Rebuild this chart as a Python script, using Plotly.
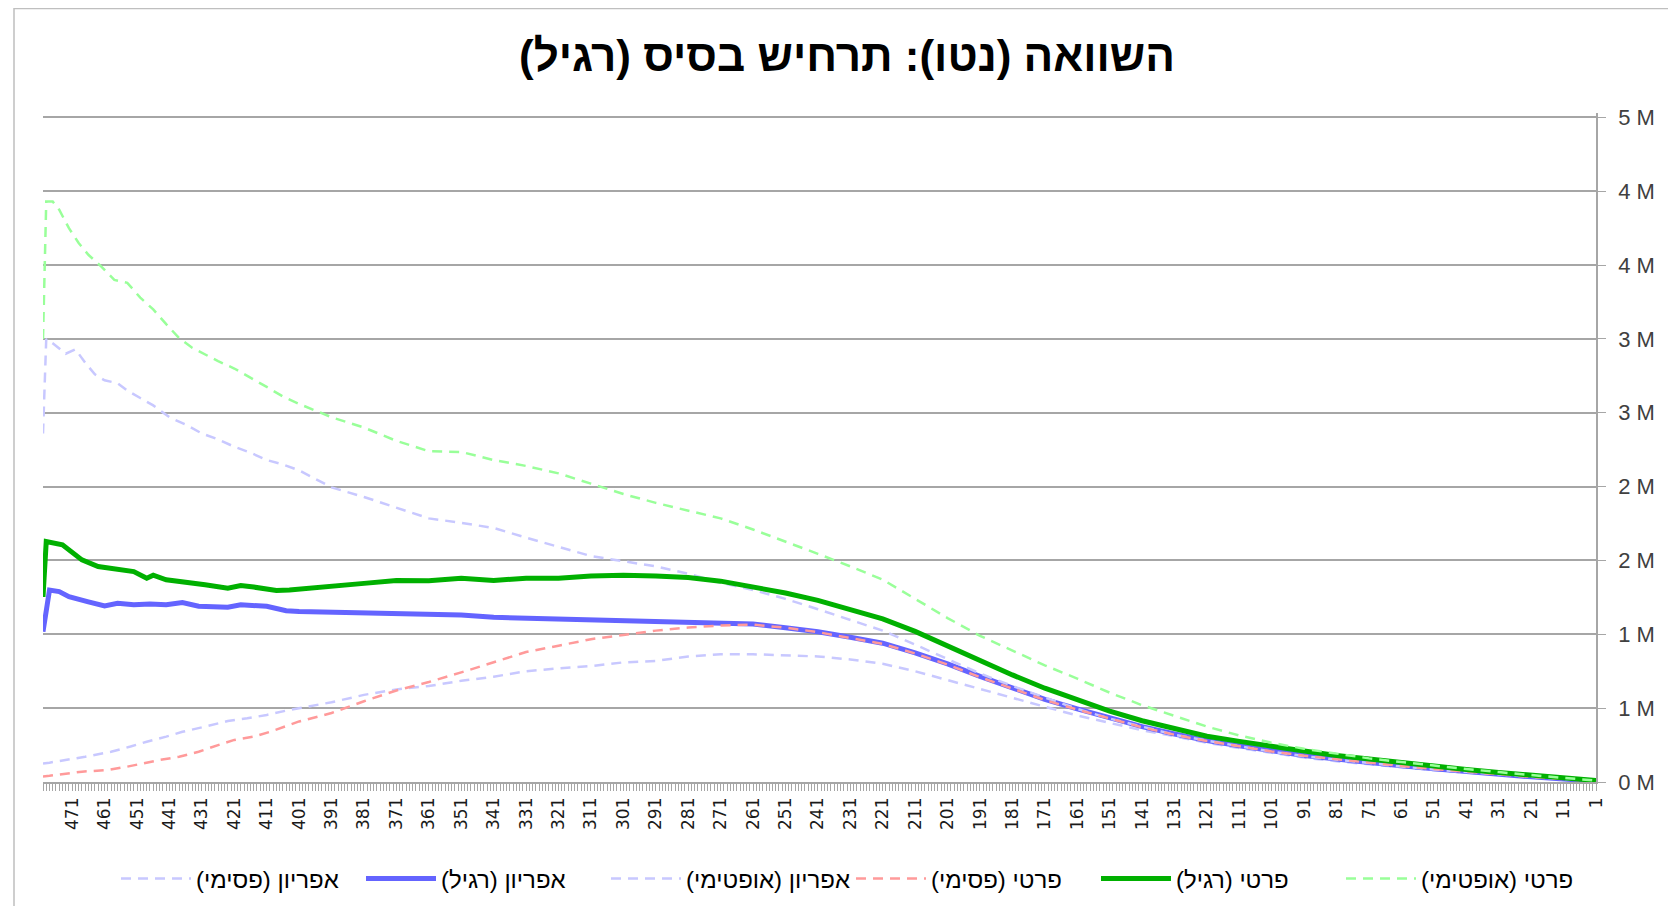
import plotly.graph_objects as go

RLM = "\u200f"

# ---------------- data (values in millions) ----------------
TAIL_CAT = [401, 391, 381, 371, 361, 351, 341, 331, 321, 311, 301, 291, 281, 271,
            261, 251, 241, 231, 221, 211, 201, 191, 181, 171, 161, 151, 141, 131,
            121, 111, 101, 91, 81, 71, 61, 51, 41, 31, 21, 11, 1]

# אפריון (פסימי)
afr_pes_head_x = [480, 478, 467, 459, 453, 448, 442, 437, 430, 423, 417, 411, 404]
afr_pes_head_y = [0.125, 0.131, 0.171, 0.205, 0.24, 0.273, 0.307, 0.34, 0.375, 0.413, 0.431, 0.454, 0.488]
afr_pes_tail = [0.50, 0.54, 0.59, 0.627, 0.65, 0.685, 0.713, 0.75, 0.77, 0.785, 0.81, 0.82, 0.85, 0.865,
                0.865, 0.86, 0.85, 0.83, 0.80, 0.75, 0.69, 0.627, 0.57, 0.51, 0.45, 0.40, 0.35, 0.31,
                0.265, 0.23, 0.195, 0.165, 0.14, 0.12, 0.10, 0.08, 0.065, 0.045, 0.03, 0.018, 0.005]

# אפריון (רגיל)
afr_reg_head_x = [480, 478, 475, 472, 466, 461, 457, 452, 447, 442, 437, 432, 423, 419, 411, 405]
afr_reg_head_y = [1.018, 1.30, 1.289, 1.255, 1.22, 1.192, 1.21, 1.20, 1.205, 1.20, 1.215, 1.19, 1.183, 1.20, 1.19, 1.16]
afr_reg_tail = [1.155, 1.15, 1.145, 1.14, 1.13, 1.13, 1.115, 1.11, 1.105, 1.10, 1.095, 1.09, 1.085, 1.08,
                1.07, 1.045, 1.017, 0.98, 0.94, 0.875, 0.80, 0.715, 0.635, 0.56, 0.495, 0.435, 0.375, 0.325,
                0.28, 0.245, 0.21, 0.18, 0.155, 0.13, 0.11, 0.09, 0.07, 0.052, 0.035, 0.02, 0.006]

# אפריון (אופטימי)
afr_opt_head_x = [480, 479, 477, 473, 470, 467, 464, 461, 457, 454, 450, 446, 441, 436, 431, 426, 421, 416, 411, 406]
afr_opt_head_y = [2.36, 3.0, 2.97, 2.90, 2.93, 2.84, 2.76, 2.72, 2.70, 2.65, 2.60, 2.55, 2.47, 2.42, 2.36, 2.32, 2.27, 2.23, 2.18, 2.15]
afr_opt_tail = [2.11, 1.995, 1.93, 1.857, 1.785, 1.755, 1.72, 1.655, 1.59, 1.53, 1.495, 1.46, 1.41, 1.35,
                1.30, 1.24, 1.17, 1.10, 1.025, 0.93, 0.83, 0.735, 0.65, 0.57, 0.495, 0.43, 0.375, 0.32,
                0.28, 0.24, 0.205, 0.175, 0.15, 0.125, 0.105, 0.085, 0.068, 0.05, 0.033, 0.02, 0.006]

# פרטי (פסימי)
prv_pes_head_x = [480, 478, 468, 460, 454, 449, 444, 438, 432, 426, 421, 415, 410, 404]
prv_pes_head_y = [0.038, 0.042, 0.07, 0.081, 0.104, 0.127, 0.149, 0.171, 0.205, 0.25, 0.285, 0.307, 0.34, 0.386]
prv_pes_tail = [0.41, 0.467, 0.547, 0.62, 0.677, 0.742, 0.81, 0.88, 0.923, 0.967, 0.996, 1.025, 1.046, 1.06,
                1.065, 1.045, 1.015, 0.975, 0.935, 0.87, 0.795, 0.71, 0.63, 0.555, 0.49, 0.43, 0.37, 0.32,
                0.277, 0.242, 0.207, 0.178, 0.153, 0.128, 0.108, 0.088, 0.069, 0.051, 0.034, 0.019, 0.005]

# פרטי (רגיל)
prv_reg_head_x = [480, 479, 474, 471, 468, 463, 457, 452, 448, 446, 442, 437, 434, 430, 423, 419, 415, 411, 408, 404]
prv_reg_head_y = [1.253, 1.628, 1.606, 1.56, 1.504, 1.459, 1.436, 1.425, 1.38, 1.40, 1.369, 1.357, 1.346, 1.335,
                  1.312, 1.33, 1.32, 1.305, 1.297, 1.30]
prv_reg_tail = [1.305, 1.32, 1.345, 1.365, 1.362, 1.38, 1.365, 1.38, 1.38, 1.395, 1.40, 1.395, 1.385, 1.36,
                1.32, 1.28, 1.23, 1.17, 1.105, 1.02, 0.92, 0.82, 0.725, 0.635, 0.555, 0.48, 0.415, 0.36,
                0.31, 0.275, 0.24, 0.21, 0.18, 0.155, 0.13, 0.105, 0.085, 0.065, 0.045, 0.028, 0.01]

# פרטי (אופטימי)
prv_opt_head_x = [480, 479, 477, 475, 472, 469, 466, 462, 458, 454, 450, 446, 442, 438, 434, 431, 426, 421, 416, 411, 406]
prv_opt_head_y = [3.0, 3.93, 3.93, 3.875, 3.75, 3.65, 3.57, 3.49, 3.40, 3.38, 3.28, 3.20, 3.10, 3.006, 2.94, 2.905,
                  2.85, 2.80, 2.74, 2.675, 2.61]
prv_opt_tail = [2.56, 2.47, 2.40, 2.31, 2.24, 2.235, 2.18, 2.14, 2.09, 2.02, 1.95, 1.89, 1.84, 1.785,
                1.71, 1.63, 1.545, 1.46, 1.37, 1.24, 1.11, 0.99, 0.89, 0.79, 0.70, 0.605, 0.52, 0.445,
                0.375, 0.315, 0.265, 0.225, 0.19, 0.16, 0.135, 0.11, 0.088, 0.067, 0.046, 0.028, 0.01]

SERIES_NAMES = ["אפריון (פסימי)", "אפריון (רגיל)", "אפריון (אופטימי)",
                "פרטי (פסימי)", "פרטי (רגיל)", "פרטי (אופטימי)"]

X_TICKS = [471, 461, 451, 441, 431, 421, 411, 401, 391, 381, 371, 361, 351, 341, 331, 321,
           311, 301, 291, 281, 271, 261, 251, 241, 231, 221, 211, 201, 191, 181, 171, 161,
           151, 141, 131, 121, 111, 101, 91, 81, 71, 61, 51, 41, 31, 21, 11, 1]
Y_TICKS = [0, 0.5, 1.0, 1.5, 2.0, 2.5, 3.0, 3.5, 4.0, 4.5]
Y_LABELS = ["0 M", "1 M", "1 M", "2 M", "2 M", "3 M", "3 M", "4 M", "4 M", "5 M"]

TITLE = "השוואה (נטו): תרחיש בסיס (רגיל)"

# ---------------- styling ----------------
series = [
    (afr_pes_head_x, afr_pes_head_y, afr_pes_tail, "#C8C8FF", 2.5, "10px,7px"),
    (afr_reg_head_x, afr_reg_head_y, afr_reg_tail, "#6464FF", 5, "solid"),
    (afr_opt_head_x, afr_opt_head_y, afr_opt_tail, "#C8C8FF", 2.5, "10px,7px"),
    (prv_pes_head_x, prv_pes_head_y, prv_pes_tail, "#FF9A9A", 2.5, "10px,7px"),
    (prv_reg_head_x, prv_reg_head_y, prv_reg_tail, "#00B000", 5, "solid"),
    (prv_opt_head_x, prv_opt_head_y, prv_opt_tail, "#99FF99", 2.5, "10px,7px"),
]

fig = go.Figure()
for name, (hx, hy, tail, color, w, dash) in zip(SERIES_NAMES, series):
    fig.add_trace(go.Scatter(
        x=hx + TAIL_CAT, y=hy + tail, mode="lines", name=name + RLM,
        line=dict(color=color, width=w, dash=dash),
    ))

# page has an 8px body margin -> figure coordinates = page coordinates - 8
OFF = 8
W, H = 1676 - 2 * OFF, 914 - 2 * OFF
Y_TOP = 4.53
plot_left, plot_right = 43 - OFF, 1596 - OFF
y0_px = 782 - OFF                      # pixel of value 0
y45_px = 117 - OFF                     # pixel of value 4.5
ph = (y0_px - y45_px) * Y_TOP / 4.5
T = y0_px - ph
L, R = plot_left, W - plot_right
B = H - y0_px
pw = plot_right - plot_left

GRID = "#A6A6A6"
fig.update_layout(
    width=W, height=H,
    margin=dict(l=L, r=R, t=T, b=B, autoexpand=False),
    paper_bgcolor="white", plot_bgcolor="white",
    title=dict(text="<b>" + TITLE + RLM + "</b>", x=(847 - OFF) / W, xref="container", xanchor="center",
               y=1 - (56 - OFF) / H, yref="container", yanchor="middle",
               font=dict(family="Liberation Sans", size=44, color="#000000")),
    showlegend=True,
    legend=dict(orientation="h", x=(851 - OFF - plot_left) / pw, xanchor="center",
                y=(782 - 879) / ph, yanchor="middle",
                itemwidth=70, entrywidth=160, entrywidthmode="pixels",
                font=dict(family="Liberation Sans Narrow, Liberation Sans", size=24, color="#000000"),
                bgcolor="rgba(0,0,0,0)"),
    xaxis=dict(range=[480, 1], tickmode="array", tickvals=X_TICKS, ticktext=[str(v) for v in X_TICKS],
               tickangle=-90, ticks="outside", ticklen=7, tickcolor=GRID, tickwidth=1,
               showline=True, linecolor=GRID, linewidth=1.5, showgrid=False, zeroline=False,
               tickfont=dict(family="DejaVu Sans", size=17, color="#1A1A1A"),
               minor=dict(tickmode="linear", tick0=1, dtick=1, ticks="outside", ticklen=7,
                          tickcolor=GRID, tickwidth=1, showgrid=False)),
    yaxis=dict(range=[0, Y_TOP], side="right", tickmode="array", tickvals=Y_TICKS, ticktext=Y_LABELS,
               showgrid=True, gridcolor=GRID, gridwidth=1.5, showline=True, linecolor=GRID, linewidth=1.5,
               ticks="outside", ticklen=8, tickcolor=GRID, zeroline=False, ticklabelstandoff=8,
               tickfont=dict(family="Liberation Sans", size=22, color="#404040")),
    shapes=[dict(type="rect", xref="paper", yref="paper",
                 x0=(14 - OFF - L) / pw, x1=(W + 20 - L) / pw,
                 y0=(y0_px - H - 20) / ph, y1=(y0_px - (8 - OFF)) / ph,
                 line=dict(color="#BFBFBF", width=1.5), fillcolor="rgba(0,0,0,0)", layer="below")],
)

fig.write_html("out.html")
